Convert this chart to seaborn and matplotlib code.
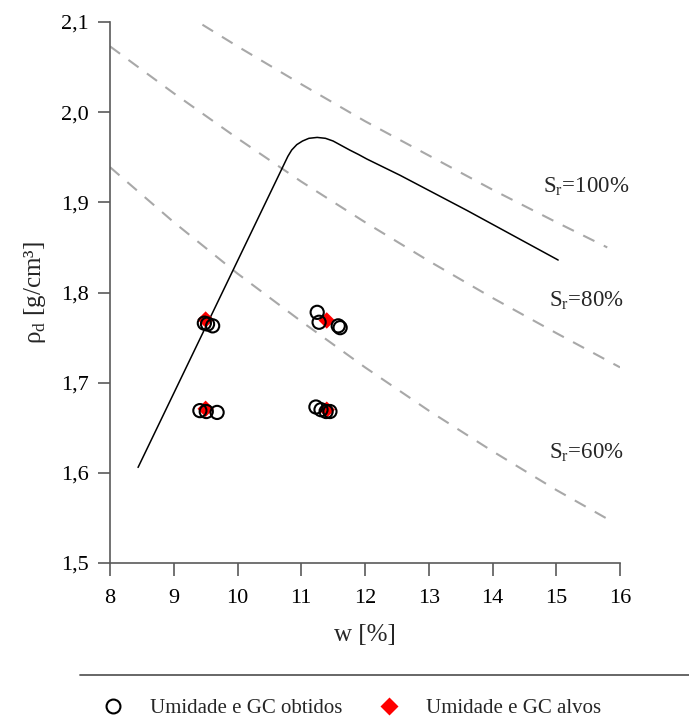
import matplotlib
matplotlib.use("Agg")
import matplotlib.pyplot as plt
from matplotlib.lines import Line2D
import seaborn as sns

# curva de compactação
curve_w = [8.44, 10.79, 10.85, 10.93, 11.02, 11.12, 11.25, 11.38, 11.50, 11.63,
           11.76, 11.90, 12.03, 12.29, 12.55, 13.60, 15.03]
curve_rho = [1.606, 1.951, 1.958, 1.964, 1.968, 1.971, 1.972, 1.971, 1.968, 1.963,
             1.958, 1.953, 1.948, 1.939, 1.930, 1.891, 1.836]

# curvas de saturação
sr100_w = [9.45, 10, 11, 12, 13, 14, 15, 15.8]
sr100_rho = [2.097, 2.073, 2.031, 1.990, 1.952, 1.914, 1.878, 1.850]
sr80_w = [8, 9, 10, 11, 12, 13, 14, 15, 16]
sr80_rho = [2.073, 2.021, 1.971, 1.923, 1.878, 1.835, 1.794, 1.755, 1.717]
sr60_w = [8, 9, 10, 11, 12, 13, 14, 15, 15.8]
sr60_rho = [1.939, 1.878, 1.821, 1.768, 1.717, 1.669, 1.624, 1.581, 1.549]

# pontos obtidos
obt_w = [9.48, 9.53, 9.61, 11.25, 11.28, 11.58, 11.61,
         9.41, 9.51, 9.68, 11.23, 11.31, 11.39, 11.45]
obt_rho = [1.766, 1.765, 1.763, 1.778, 1.767, 1.763, 1.761,
           1.669, 1.668, 1.667, 1.673, 1.670, 1.668, 1.668]

# pontos alvo
alvo_w = [9.5, 11.4, 9.5, 11.4]
alvo_rho = [1.770, 1.769, 1.671, 1.670]

sr_labels = ['100%', '80%', '60%']
sr_label_w = [14.79, 14.89, 14.89]
sr_label_rho = [1.917, 1.791, 1.622]

x_ticks = [8, 9, 10, 11, 12, 13, 14, 15, 16]
y_ticks = [1.5, 1.6, 1.7, 1.8, 1.9, 2.0, 2.1]
y_tick_labels = ['1,5', '1,6', '1,7', '1,8', '1,9', '2,0', '2,1']

sns.set_style('ticks')
plt.rcParams['font.family'] = ['Liberation Serif', 'DejaVu Serif']
plt.rcParams['mathtext.fontset'] = 'custom'
plt.rcParams['mathtext.rm'] = 'Liberation Serif'

fig = plt.figure(figsize=(6.89, 7.28), dpi=100)
ax = fig.add_axes([110 / 689, 1 - 563 / 728, 510 / 689, 541 / 728])

dash_color = '#a8a8a8'
for w, r in [(sr100_w, sr100_rho), (sr80_w, sr80_rho), (sr60_w, sr60_rho)]:
    sns.lineplot(x=w, y=r, ax=ax, color=dash_color, lw=1.5,
                 linestyle=(0, (6, 5)), estimator=None, sort=False)

sns.lineplot(x=curve_w, y=curve_rho, ax=ax, color='black', lw=1.1,
             estimator=None, sort=False)

sns.scatterplot(x=alvo_w, y=alvo_rho, ax=ax, marker='D', s=70,
                color='red', edgecolor='none', zorder=3)
sns.scatterplot(x=obt_w, y=obt_rho, ax=ax, marker='o', s=90,
                facecolor='none', edgecolor='black', linewidth=1.5, zorder=4)

for lab, w, r in zip(sr_labels, sr_label_w, sr_label_rho):
    ax.text(w, r, 'S$_\\mathregular{r}$=' + lab, fontsize=16.5, va='center', ha='left')

ax.set_xlim(8, 16)
ax.set_ylim(1.5, 2.1)
ax.set_xticks(x_ticks)
ax.set_yticks(y_ticks)
ax.set_yticklabels(y_tick_labels)
ax.set_xlabel('w [%]', fontsize=18, labelpad=11)
ax.set_ylabel('ρ$_\\mathregular{d}$ [g/cm³]', fontsize=18, labelpad=10)

sns.despine(ax=ax)
for sp in ['left', 'bottom']:
    ax.spines[sp].set_color('#5a5a5a')
    ax.spines[sp].set_linewidth(1.2)
ax.tick_params(axis='both', length=9, width=1.2, color='#5a5a5a',
               labelsize=16, labelcolor='black', pad=6)
ax.tick_params(axis='x', pad=10)

# legenda
h_obt = Line2D([], [], marker='o', ls='none', markersize=10,
               markerfacecolor='none', markeredgecolor='black', markeredgewidth=1.5)
h_alvo = Line2D([], [], marker='D', ls='none', markersize=9,
                markerfacecolor='red', markeredgecolor='none')
fig.legend([h_obt, h_alvo], ['Umidade e GC obtidos', 'Umidade e GC alvos'],
           ncol=2, loc='center left', bbox_to_anchor=(92 / 689, 1 - 708 / 728),
           frameon=False, fontsize=15, handlelength=1.0, handletextpad=1.26,
           columnspacing=1.76, borderpad=0)
fig.add_artist(Line2D([80 / 689, 1.0], [1 - 675 / 728, 1 - 675 / 728],
                      transform=fig.transFigure, color='#5a5a5a', lw=1.3))

fig.savefig('out.png', dpi=100)
